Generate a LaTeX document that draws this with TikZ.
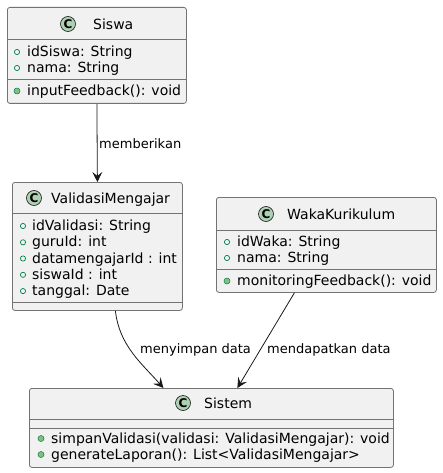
\documentclass[tikz,border=0pt]{standalone}
\usepackage{fontspec}
\setmainfont{DejaVu Sans}
\usetikzlibrary{arrows.meta}
\definecolor{boxfill}{HTML}{F1F1F1}
\definecolor{boxline}{HTML}{181818}
\definecolor{iconfill}{HTML}{ADD1B2}
\definecolor{markline}{HTML}{038048}
\definecolor{markfill}{HTML}{84BE84}
\tikzset{
	classbox/.style={draw=black!55, fill=boxfill, line width=0.8pt, rounded corners=2.5pt, anchor=north west, inner sep=0pt},
	sepline/.style={draw=black!55, line width=0.8pt},
	cicon/.style={circle, draw=boxline, fill=iconfill, line width=0.6pt, minimum size=15pt, inner sep=0pt, font=\fontsize{12}{12}\selectfont\bfseries},
	titletext/.style={anchor=base west, inner sep=0pt, font=\fontsize{14}{17}\selectfont},
	membertext/.style={anchor=base west, inner sep=0pt, font=\fontsize{14}{17}\selectfont},
	fieldmark/.style={draw=markline, line width=0.7pt},
	methodmark/.style={draw=markline, fill=markfill, line width=0.5pt},
	assoc/.style={draw=boxline, line width=0.8pt, -{Stealth[length=10pt, width=10pt, inset=4pt]}},
	assoclabel/.style={anchor=base west, inner sep=0pt, font=\fontsize{13}{15}\selectfont}
}

\begin{document}
\begin{tikzpicture}[x=1pt, y=-1pt]
	%%%%% START %%%%%
	\useasboundingbox (0,0) rectangle (442,473);
	
	% Siswa
	\node[classbox, minimum width=179pt, minimum height=96pt] (siswa) at (7,7) {};
	\node[cicon] (siswa-icon) at (68,24) {C};
	\node[titletext] (siswa-name) at (93,29.3) {Siswa};
	\draw[sepline] (siswa.west |- 0,39) -- (siswa.east |- 0,39);
	\draw[sepline] (siswa.west |- 0,79) -- (siswa.east |- 0,79);
	\draw[fieldmark] (17,52) circle (2.6);
	\node[membertext] (siswa-f1) at (27,56.7) {idSiswa: String};
	\draw[fieldmark] (17,68) circle (2.6);
	\node[membertext] (siswa-f2) at (27,72.7) {nama: String};
	\draw[methodmark] (17,91) circle (3);
	\node[membertext] (siswa-m1) at (27,95.7) {inputFeedback(): void};
	
	% ValidasiMengajar
	\node[classbox, minimum width=170pt, minimum height=128pt] (validasi) at (12,182) {};
	\node[cicon] (validasi-icon) at (34,198) {C};
	\node[titletext] (validasi-name) at (51,203.3) {ValidasiMengajar};
	\draw[sepline] (validasi.west |- 0,213) -- (validasi.east |- 0,213);
	\draw[sepline] (validasi.west |- 0,302) -- (validasi.east |- 0,302);
	\draw[fieldmark] (23,226) circle (2.6);
	\node[membertext] (validasi-f1) at (32,230.5) {idValidasi: String};
	\draw[fieldmark] (23,242.3) circle (2.6);
	\node[membertext] (validasi-f2) at (32,246.8) {guruId: int};
	\draw[fieldmark] (23,258.5) circle (2.6);
	\node[membertext] (validasi-f3) at (32,263) {datamengajarId : int};
	\draw[fieldmark] (23,274.8) circle (2.6);
	\node[membertext] (validasi-f4) at (32,279.3) {siswaId : int};
	\draw[fieldmark] (23,291.1) circle (2.6);
	\node[membertext] (validasi-f5) at (32,295.6) {tanggal: Date};
	
	% WakaKurikulum
	\node[classbox, minimum width=220pt, minimum height=95pt] (waka) at (216,197) {};
	\node[cicon] (waka-icon) at (266,214) {C};
	\node[titletext] (waka-name) at (287,219.3) {WakaKurikulum};
	\draw[sepline] (waka.west |- 0,230) -- (waka.east |- 0,230);
	\draw[sepline] (waka.west |- 0,269) -- (waka.east |- 0,269);
	\draw[fieldmark] (227,242) circle (2.6);
	\node[membertext] (waka-f1) at (237,246.7) {idWaka: String};
	\draw[fieldmark] (227,258) circle (2.6);
	\node[membertext] (waka-f2) at (237,262.7) {nama: String};
	\draw[methodmark] (227,281) circle (3);
	\node[membertext] (waka-m1) at (237,285.7) {monitoringFeedback(): void};
	
	% Sistem
	\node[classbox, minimum width=364pt, minimum height=79pt] (sistem) at (29,388) {};
	\node[cicon] (sistem-icon) at (183,403) {C};
	\node[titletext] (sistem-name) at (204,408.3) {Sistem};
	\draw[sepline] (sistem.west |- 0,419) -- (sistem.east |- 0,419);
	\draw[sepline] (sistem.west |- 0,428) -- (sistem.east |- 0,428);
	\draw[methodmark] (41,438.5) circle (3);
	\node[membertext] (sistem-m1) at (51,443.3) {simpanValidasi(validasi: ValidasiMengajar): void};
	\draw[methodmark] (41,454.5) circle (3);
	\node[membertext] (sistem-m2) at (51,459.3) {generateLaporan(): List<ValidasiMengajar>};
	
	% relations
	\draw[assoc] (siswa.south) -- (validasi.north);
	\node[assoclabel] (lbl-memberikan) at (99,148.3) {memberikan};
	
	\draw[assoc] ([xshift=18pt]validasi.south) .. controls +(4,35) and +(-22,-25) .. ([xshift=-48pt]sistem.north);
	\node[assoclabel] (lbl-menyimpan) at (140,353.3) {menyimpan data};
	
	\draw[assoc] ([xshift=-32pt]waka.south) -- ([xshift=26pt]sistem.north);
	\node[assoclabel] (lbl-mendapatkan) at (267,353.3) {mendapatkan data};
	
	%%%%% END %%%%%
\end{tikzpicture}
\end{document}
